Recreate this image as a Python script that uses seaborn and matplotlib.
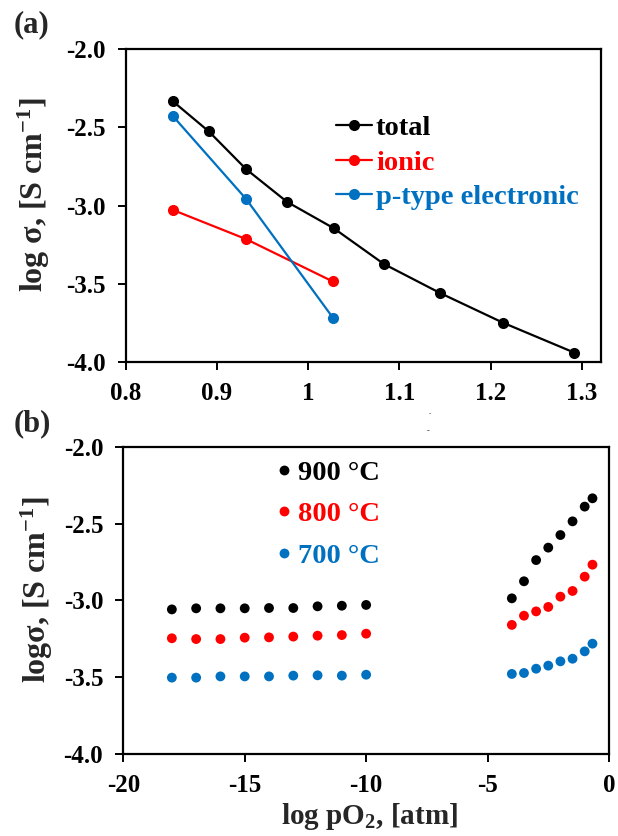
import matplotlib
matplotlib.use("Agg")
import matplotlib.pyplot as plt
import matplotlib.ticker as mticker
import numpy as np
import pandas as pd
import seaborn as sns

# ---------------- data: panel (a) ----------------
x_total = [0.852, 0.891, 0.932, 0.977, 1.028, 1.083, 1.145, 1.214, 1.292]
y_total = [-2.334, -2.525, -2.767, -2.977, -3.145, -3.374, -3.561, -3.751, -3.942]
x_ionic = [0.852, 0.932, 1.027]
y_ionic = [-3.029, -3.215, -3.486]
x_ptype = [0.852, 0.932, 1.027]
y_ptype = [-2.429, -2.958, -3.717]
labels_a = ["total", "ionic", "p-type electronic"]

# ---------------- data: panel (b) ----------------
log_po2 = [-18, -17, -16, -15, -14, -13, -12, -11, -10,
           -4, -3.5, -3, -2.5, -2, -1.5, -1, -0.68]
s900 = [-3.059, -3.052, -3.052, -3.052, -3.050, -3.050, -3.039, -3.035, -3.030,
        -2.987, -2.876, -2.738, -2.657, -2.575, -2.486, -2.390, -2.336]
s800 = [-3.247, -3.252, -3.252, -3.243, -3.241, -3.236, -3.230, -3.226, -3.217,
        -3.160, -3.100, -3.072, -3.043, -2.976, -2.939, -2.846, -2.768]
s700 = [-3.503, -3.503, -3.495, -3.495, -3.495, -3.490, -3.488, -3.490, -3.484,
        -3.479, -3.473, -3.445, -3.425, -3.397, -3.380, -3.332, -3.282]
labels_b = ["900 \u00b0C", "800 \u00b0C", "700 \u00b0C"]

BLACK, RED, BLUE = "#000000", "#FF0000", "#0070C0"

sns.set_theme(style="ticks")
plt.rcParams.update({
    "font.family": ["Liberation Serif", "DejaVu Serif"],
    "font.weight": "bold",
    "axes.labelweight": "bold",
    "axes.unicode_minus": False,
    "mathtext.fontset": "custom",
    "mathtext.rm": "Liberation Serif:bold",
    "mathtext.bf": "Liberation Serif:bold",
    "mathtext.it": "Liberation Serif:bold",
    "axes.linewidth": 1.6,
    "xtick.major.width": 1.4,
    "ytick.major.width": 1.4,
    "xtick.major.size": 5.5,
    "ytick.major.size": 5.5,
    "xtick.color": "black",
    "ytick.color": "black",
    "axes.edgecolor": "black",
})

fig = plt.figure(figsize=(6.18, 8.36), dpi=100)
ax1 = fig.add_axes([0.2034, 0.5673, 0.7686, 0.3737])
ax2 = fig.add_axes([0.1995, 0.0981, 0.7859, 0.3676])

# ---------------- panel (a) ----------------
df_a = pd.concat([
    pd.DataFrame({"x": x_total, "y": y_total, "s": labels_a[0]}),
    pd.DataFrame({"x": x_ionic, "y": y_ionic, "s": labels_a[1]}),
    pd.DataFrame({"x": x_ptype, "y": y_ptype, "s": labels_a[2]}),
])
sns.lineplot(data=df_a, x="x", y="y", hue="s", palette=[BLACK, RED, BLUE],
             hue_order=labels_a, marker="o", markersize=8, markeredgewidth=0,
             linewidth=1.6, sort=False, estimator=None, ax=ax1)
ax1.set_xlim(0.8, 1.3208)
ax1.set_ylim(-4.0, -2.0)
ax1.set_xticks([0.8, 0.9, 1.0, 1.1, 1.2, 1.3])
ax1.xaxis.set_major_formatter(mticker.FuncFormatter(lambda v, p: f"{v:g}"))
ax1.set_yticks([-4.0, -3.5, -3.0, -2.5, -2.0])
ax1.yaxis.set_major_formatter(mticker.FormatStrFormatter("%.1f"))
ax1.tick_params(labelsize=18, pad=9)
ax1.set_xlabel("")
ax1.set_ylabel(r"log $\mathbf{\sigma}$, [S cm$^{-1}$]", fontsize=23, fontweight="bold")
ax1.yaxis.set_label_coords(-0.155, 0.534)
for s in ax1.spines.values():
    s.set_visible(True)
ax1.legend(loc="upper left", bbox_to_anchor=(0.419, 0.825), frameon=False,
           fontsize=20.5, handlelength=1.25, handletextpad=0.15,
           labelspacing=0.30, borderaxespad=0, labelcolor="linecolor")
fig.text(0.022, 0.970, "(a)", fontsize=22, fontweight="bold", va="center", ha="left")

# ---------------- panel (b) ----------------
df_b = pd.concat([
    pd.DataFrame({"x": log_po2, "y": s900, "T": labels_b[0]}),
    pd.DataFrame({"x": log_po2, "y": s800, "T": labels_b[1]}),
    pd.DataFrame({"x": log_po2, "y": s700, "T": labels_b[2]}),
])
sns.scatterplot(data=df_b, x="x", y="y", hue="T", hue_order=labels_b,
                palette=[BLACK, RED, BLUE], s=50, linewidth=0, ax=ax2)
ax2.set_xlim(-20, 0)
ax2.set_ylim(-4.0, -2.0)
ax2.set_xticks([-20, -15, -10, -5, 0])
ax2.set_yticks([-4.0, -3.5, -3.0, -2.5, -2.0])
ax2.yaxis.set_major_formatter(mticker.FormatStrFormatter("%.1f"))
ax2.tick_params(labelsize=18, pad=9)
ax2.set_xlabel(r"log pO$_{2}$, [atm]", fontsize=21, fontweight="bold")
ax2.xaxis.set_label_coords(0.506, -0.152)
ax2.set_ylabel(r"log$\mathbf{\sigma}$, [S cm$^{-1}$]", fontsize=23, fontweight="bold")
ax2.yaxis.set_label_coords(-0.141, 0.534)
for s in ax2.spines.values():
    s.set_visible(True)
ax2.legend(loc="upper left", bbox_to_anchor=(0.293, 0.995), frameon=False,
           fontsize=20.5, handlelength=0.5, handletextpad=0.25,
           labelspacing=0.56, borderaxespad=0, labelcolor="markerfacecolor",
           markerscale=1.0)
fig.text(0.022, 0.493, "(b)", fontsize=22, fontweight="bold", va="center", ha="left")

# small stray marks in the reference
fig.text(0.696, 0.505, "-", fontsize=5, color="#333333", ha="center", va="center")
fig.text(0.693, 0.484, "-", fontsize=6, color="#333333", ha="center", va="center")

fig.savefig("out.png", dpi=100)
